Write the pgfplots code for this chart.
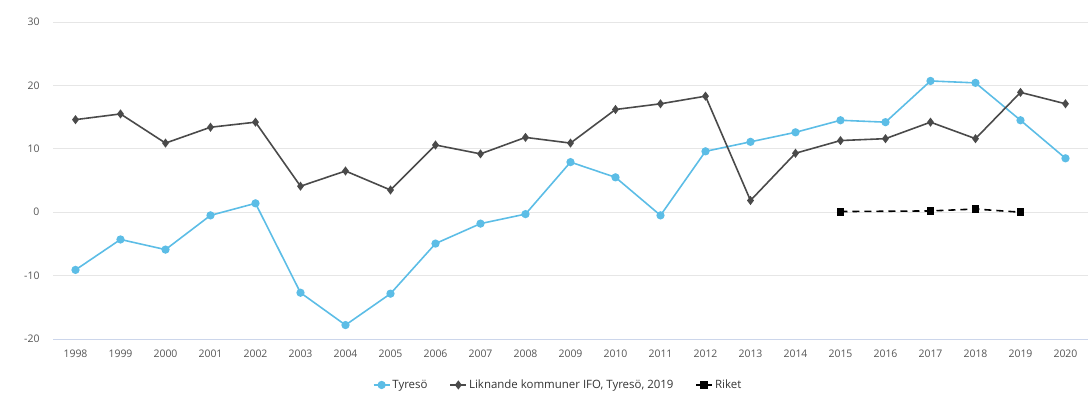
\documentclass[border=0pt]{standalone}
\usepackage{pgfplots}
\pgfplotsset{compat=1.18}
\usepackage{fontspec}
\setmainfont{Open Sans}
\definecolor{tyreso}{HTML}{5CBDE6}
\definecolor{likn}{HTML}{4A4A4A}
\definecolor{gridc}{HTML}{E6E6E6}
\definecolor{axisc}{HTML}{CCD6EB}
\definecolor{tickc}{HTML}{555555}
\definecolor{legc}{HTML}{333333}
\begin{document}
\begin{tikzpicture}[x=1bp,y=1bp]
\path[use as bounding box] (0,0) rectangle (1091,406);
\begin{axis}[
  at={(53bp,67bp)}, anchor=south west,
  scale only axis, width=1035bp, height=317bp,
  xmin=-0.5, xmax=22.5, ymin=-20, ymax=30,
  xtick={0,...,22},
  xticklabels={1998,1999,2000,2001,2002,2003,2004,2005,2006,2007,2008,2009,2010,2011,2012,2013,2014,2015,2016,2017,2018,2019,2020},
  ytick={-20,-10,0,10,20,30},
  /pgf/number format/assume math mode=true,
  tick label style={font=\fontsize{10.5}{12}\selectfont, text=tickc},
  yticklabel style={xshift=-10bp},
  xticklabel style={yshift=-7bp},
  major tick length=0pt,
  axis x line*=bottom, axis y line*=left,
  x axis line style={draw=axisc, line width=1pt, -},
  y axis line style={draw=none},
  ymajorgrids, grid style={draw=gridc, line width=1pt},
  legend columns=3,
  legend style={at={(0.488,-0.145)}, anchor=center, draw=none, fill=none,
    font=\fontsize{11.5}{13}\selectfont, text=legc,
    /tikz/every even column/.append style={column sep=20bp}},
  legend image code/.code={\draw[#1] (0bp,0bp) -- (16bp,0bp); \draw[#1,solid] plot coordinates {(8bp,0bp)};},
]
\addplot[color=tyreso, line width=1.6pt, mark=*, mark size=3.3pt, mark options={fill=tyreso, draw=tyreso}] coordinates {
(0,-9.1)(1,-4.3)(2,-5.9)(3,-0.5)(4,1.4)(5,-12.7)(6,-17.8)(7,-12.85)(8,-4.95)(9,-1.8)(10,-0.3)
(11,7.9)(12,5.5)(13,-0.5)(14,9.6)(15,11.1)(16,12.6)(17,14.5)(18,14.2)(19,20.7)(20,20.4)(21,14.5)(22,8.5)};
\addlegendentry{Tyresö}
\addplot[color=likn, line width=1.6pt, mark=diamond*, mark size=3.3pt, mark options={fill=likn, draw=likn}] coordinates {
(0,14.6)(1,15.5)(2,10.9)(3,13.4)(4,14.2)(5,4.1)(6,6.5)(7,3.5)(8,10.6)(9,9.2)(10,11.8)
(11,10.9)(12,16.2)(13,17.1)(14,18.3)(15,1.85)(16,9.3)(17,11.3)(18,11.6)(19,14.2)(20,11.6)(21,18.9)(22,17.1)};
\addlegendentry{Liknande kommuner IFO, Tyresö, 2019}
\addplot[color=black, line width=1.6pt, dash pattern=on 7bp off 5bp, mark=square*, mark size=3.2pt, mark options={solid, fill=black}] coordinates {
(17,0.1)(19,0.2)(20,0.5)(21,0.0)};
\addlegendentry{Riket}
\end{axis}
\end{tikzpicture}
\end{document}
